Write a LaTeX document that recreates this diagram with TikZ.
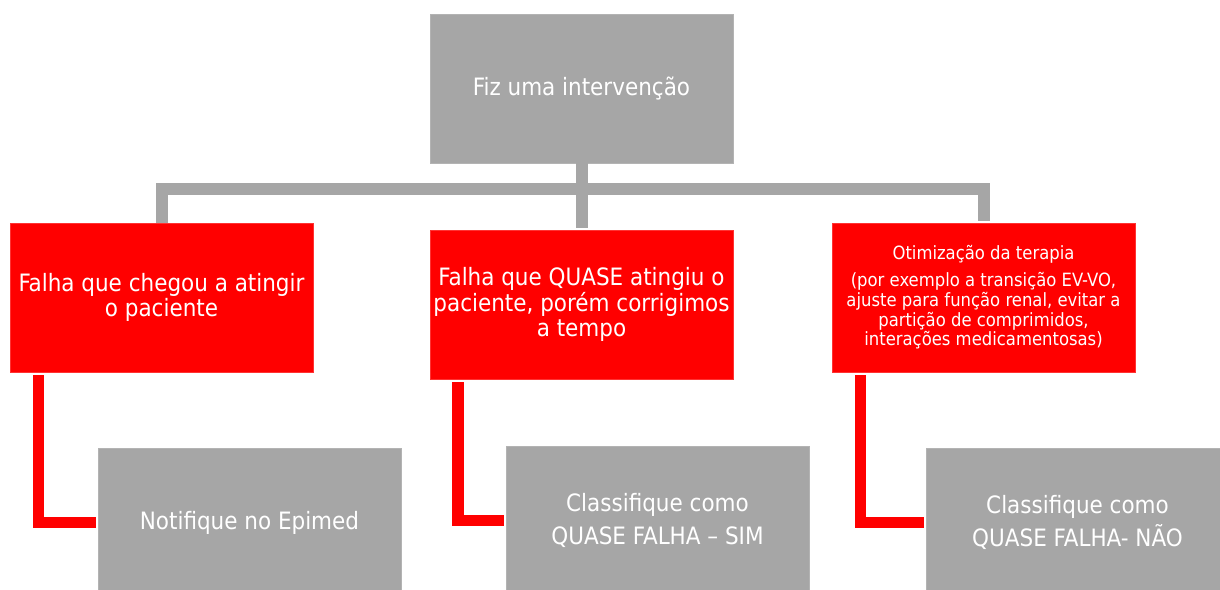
\documentclass[tikz,border=0pt]{standalone}
\usepackage{fontspec}
\setmainfont{DejaVu Sans Condensed}
\definecolor{boxgray}{HTML}{A6A6A6}
\definecolor{boxred}{HTML}{FF0000}

\begin{document}
\begin{tikzpicture}[x=0.025cm,y=-0.025cm,
  graybox/.style={fill=boxgray,draw=boxgray!85!white,text=white,align=center,
    minimum width=7.575cm,minimum height=3.725cm,inner sep=0pt,
    font=\fontsize{17}{24}\selectfont},
  redbox/.style={graybox,fill=boxred,draw=boxred!80!white,
    font=\fontsize{17}{18}\selectfont},
  graylink/.style={draw=boxgray,line width=0.3cm,shorten >=1.5pt},
  redlink/.style={draw=boxred,line width=0.28cm,shorten <=2pt,shorten >=1.5pt}]
  \useasboundingbox (0,0) rectangle (1220,590);

  % top
  \node[graybox] (interv) at (581.5,88.5) {Fiz uma intervenção};

  % middle row
  \node[redbox] (fail1) at (161.5,297.5) {Falha que chegou a atingir\\o paciente};
  \node[redbox] (fail2) at (581.5,304.5) {Falha que QUASE atingiu o\\paciente, porém corrigimos\\a tempo};
  \node[redbox,font=\fontsize{13}{14}\selectfont] (optim) at (983.5,297.5)
    {Otimização da terapia\\[5pt](por exemplo a transição EV-VO,\\ajuste para função renal, evitar a\\partição de comprimidos,\\interações medicamentosas)};

  % bottom row
  \node[graybox] (notify) at (249.5,522.5) {Notifique no Epimed};
  \node[graybox] (classSim) at (657.5,520.5) {Classifique como\\QUASE FALHA – SIM};
  \node[graybox] (classNao) at (1077.5,522.5) {Classifique como\\QUASE FALHA- NÃO};

  % gray bus
  \draw[graylink] (interv.south) -- (fail2.north);
  \draw[graylink] (fail1.north) -- ++(0,-34) -| (optim.north);

  % red links
  \draw[redlink] ([xshift=0.72cm]fail1.south west) |- (notify.west);
  \draw[redlink] ([xshift=0.71cm]fail2.south west) |- (classSim.west);
  \draw[redlink] ([xshift=0.71cm]optim.south west) |- (classNao.west);
\end{tikzpicture}
\end{document}
